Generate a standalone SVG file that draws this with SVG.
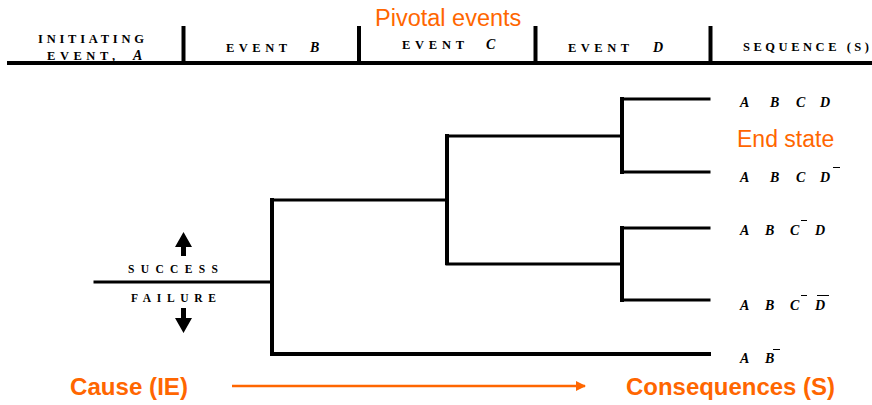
<svg xmlns="http://www.w3.org/2000/svg" width="872" height="405" viewBox="0 0 872 405">
<style>
.hdr{font-family:"Liberation Serif",serif;font-weight:bold;font-size:12.5px;fill:#000}
.hi{font-family:"Liberation Serif",serif;font-weight:bold;font-style:italic;font-size:14px;fill:#000}
.lbl{font-family:"Liberation Serif",serif;font-weight:bold;font-style:italic;font-size:14px;fill:#000}
.sf{font-family:"Liberation Serif",serif;font-weight:bold;font-size:11.5px;fill:#000}
.or{font-family:"Liberation Sans",Arial,sans-serif;fill:#FF6600}
.ln{stroke:#000;fill:none;stroke-linecap:square}
.bar{stroke:#000;stroke-width:1}
</style>
<defs>
<marker id="oa" viewBox="0 0 10 10" refX="9" refY="5" markerWidth="4" markerHeight="4" orient="auto">
<path d="M0,0 L10,5 L0,10 z" fill="#FF6600"/>
</marker>
</defs>
<g id="header">
<line class="ln" x1="9" y1="63" x2="872" y2="63" stroke-width="4"/>
<line x1="183.5" y1="26" x2="183.5" y2="63" stroke="#000" stroke-width="4"/>
<line x1="359" y1="26" x2="359" y2="63" stroke="#000" stroke-width="4"/>
<line x1="535.5" y1="26" x2="535.5" y2="63" stroke="#000" stroke-width="4"/>
<line x1="710.5" y1="26" x2="710.5" y2="63" stroke="#000" stroke-width="4"/>
<text class="hdr" x="38" y="43" textLength="106" lengthAdjust="spacing">INITIATING</text>
<text class="hdr" x="47" y="60" textLength="68" lengthAdjust="spacing">EVENT,</text>
<text class="hi" x="133" y="60">A</text>
<text class="hdr" x="226" y="52" textLength="61" lengthAdjust="spacing">EVENT</text>
<text class="hi" x="310" y="52">B</text>
<text class="hdr" x="402" y="49" textLength="62" lengthAdjust="spacing">EVENT</text>
<text class="hi" x="486" y="49">C</text>
<text class="hdr" x="568" y="52" textLength="61" lengthAdjust="spacing">EVENT</text>
<text class="hi" x="653" y="52">D</text>
<text class="hdr" x="743" y="51" textLength="126" lengthAdjust="spacing">SEQUENCE (S)</text>
</g>
<g id="pivotal-label">
<text class="or" x="375" y="26" font-size="23.5">Pivotal events</text>
</g>
<g id="connectors">
<line class="ln" x1="95" y1="282" x2="272" y2="282" stroke-width="3"/>
<line class="ln" x1="272" y1="200" x2="272" y2="354" stroke-width="4"/>
<line class="ln" x1="272" y1="200" x2="447" y2="200" stroke-width="3"/>
<line class="ln" x1="272" y1="354" x2="709" y2="354" stroke-width="4"/>
<line class="ln" x1="447" y1="136" x2="447" y2="263" stroke-width="4"/>
<line class="ln" x1="447" y1="136" x2="622" y2="136" stroke-width="3"/>
<line class="ln" x1="447" y1="264" x2="622" y2="264" stroke-width="3"/>
<line class="ln" x1="622" y1="99" x2="622" y2="172" stroke-width="4"/>
<line class="ln" x1="622" y1="99" x2="709" y2="99" stroke-width="3"/>
<line class="ln" x1="622" y1="172" x2="709" y2="172" stroke-width="3"/>
<line class="ln" x1="622" y1="228" x2="622" y2="300" stroke-width="4"/>
<line class="ln" x1="622" y1="228" x2="709" y2="228" stroke-width="3"/>
<line class="ln" x1="622" y1="300" x2="709" y2="300" stroke-width="3"/>
</g>
<g id="success-failure">
<path d="M183.5,232 L192,247 L186,247 L186,256 L181,256 L181,247 L175,247 z" fill="#000"/>
<text class="sf" x="128" y="273" textLength="90" lengthAdjust="spacing">SUCCESS</text>
<text class="sf" x="131" y="302" textLength="85" lengthAdjust="spacing">FAILURE</text>
<path d="M183.5,333 L192,318 L186,318 L186,308 L181,308 L181,318 L175,318 z" fill="#000"/>
</g>
<g id="seq1">
<text class="lbl" x="740" y="107">A</text><text class="lbl" x="770" y="107">B</text><text class="lbl" x="796" y="107">C</text><text class="lbl" x="820" y="107">D</text>
</g>
<g id="end-state">
<text class="or" x="737" y="147" font-size="23">End state</text>
</g>
<g id="seq2">
<text class="lbl" x="740" y="182">A</text><text class="lbl" x="770" y="182">B</text><text class="lbl" x="796" y="182">C</text><text class="lbl" x="820" y="182">D</text>
<line class="bar" x1="833" y1="167.5" x2="840" y2="167.5"/>
</g>
<g id="seq3">
<text class="lbl" x="740" y="235">A</text><text class="lbl" x="765" y="235">B</text><text class="lbl" x="790" y="235">C</text><text class="lbl" x="815" y="235">D</text>
<line class="bar" x1="801" y1="220.5" x2="807" y2="220.5"/>
</g>
<g id="seq4">
<text class="lbl" x="740" y="310">A</text><text class="lbl" x="765" y="310">B</text><text class="lbl" x="790" y="310">C</text><text class="lbl" x="815" y="310">D</text>
<line class="bar" x1="801" y1="295.5" x2="807" y2="295.5"/>
<line class="bar" x1="817" y1="295.5" x2="829" y2="295.5"/>
</g>
<g id="seq5">
<text class="lbl" x="740" y="363">A</text><text class="lbl" x="765" y="363">B</text>
<line class="bar" x1="773" y1="349.5" x2="780" y2="349.5"/>
</g>
<g id="cause">
<text class="or" x="70" y="395" font-size="24" font-weight="bold" textLength="118" lengthAdjust="spacingAndGlyphs">Cause (IE)</text>
</g>
<g id="consequences">
<text class="or" x="626" y="395" font-size="24" font-weight="bold" textLength="209" lengthAdjust="spacingAndGlyphs">Consequences (S)</text>
</g>
<g id="flow-arrow">
<line x1="232" y1="386" x2="585" y2="386" stroke="#FF6600" stroke-width="2.5" marker-end="url(#oa)"/>
</g>
</svg>
